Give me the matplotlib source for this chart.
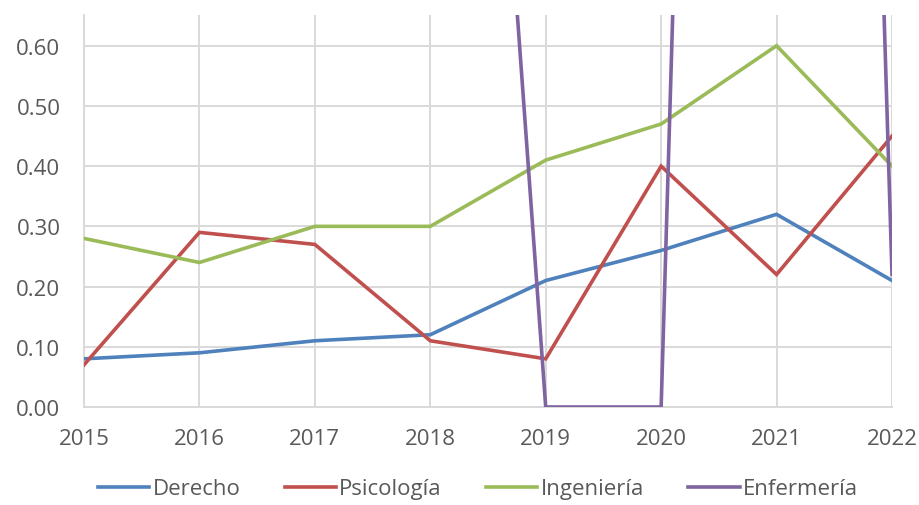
import matplotlib
matplotlib.use("Agg")
import matplotlib.pyplot as plt

years = [2015, 2016, 2017, 2018, 2019, 2020, 2021, 2022]
derecho = [0.08, 0.09, 0.11, 0.12, 0.21, 0.26, 0.32, 0.21]
psicologia = [0.07, 0.29, 0.27, 0.11, 0.08, 0.40, 0.22, 0.45]
ingenieria = [0.28, 0.24, 0.30, 0.30, 0.41, 0.47, 0.60, 0.40]
enfermeria = [2.6, 2.6, 2.6, 2.65, 0.00, 0.00, 6.5, 0.22]

series = [
    ("Derecho", derecho, "#4F81BD"),
    ("Psicología", psicologia, "#C0504D"),
    ("Ingeniería", ingenieria, "#9BBB59"),
    ("Enfermería", enfermeria, "#8064A2"),
]

plt.rcParams['font.family'] = ['Open Sans', 'DejaVu Sans']

fig = plt.figure(figsize=(9.19, 5.06), dpi=100)
ax = fig.add_axes([84/919, (506-408)/506, (892-84)/919, (408-16)/506])

for name, vals, col in series:
    ax.plot(years, vals, color=col, lw=2.6, label=name, solid_joinstyle='miter', zorder=3)

ax.set_xlim(2015, 2022)
ax.set_ylim(0, 0.651)
ax.set_yticks([0, 0.1, 0.2, 0.3, 0.4, 0.5, 0.6])
ax.set_yticklabels([f"{v:.2f}" for v in [0, 0.1, 0.2, 0.3, 0.4, 0.5, 0.6]])
ax.set_xticks(years)
ax.set_xticklabels([str(y) for y in years])
ax.grid(True, color="#D9D9D9", lw=1.4, zorder=0)
ax.set_axisbelow(True)
for s in ["top", "right"]:
    ax.spines[s].set_visible(False)
for s in ["left", "bottom"]:
    ax.spines[s].set_color("#D9D9D9")
    ax.spines[s].set_linewidth(1.4)
ax.tick_params(length=0, labelsize=16, colors="#595959")
ax.tick_params(axis='y', pad=17)
ax.tick_params(axis='x', pad=15)

leg = fig.legend(loc="center", bbox_to_anchor=(478/919, 0.032), ncol=4, frameon=False,
                 fontsize=16, handlelength=2.3, handletextpad=0.15, columnspacing=2.0,
                 borderpad=0.1)
for t in leg.get_texts():
    t.set_color("#595959")

fig.savefig("out.png", dpi=100)
